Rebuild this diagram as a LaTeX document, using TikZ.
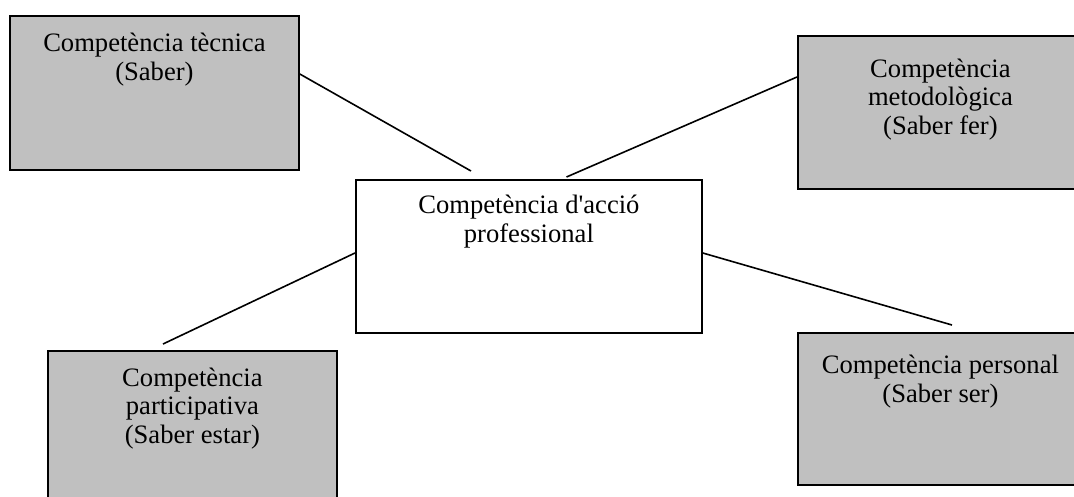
\documentclass[tikz,border=0pt]{standalone}
\usepackage{fontspec}
\setmainfont{Liberation Serif}
\usepackage{xcolor}
\usetikzlibrary{positioning}
\definecolor{gris}{HTML}{C0C0C0}

\begin{document}
\begin{tikzpicture}[x = 1pt, y = -1pt,
	caixa/.style = {draw = black, line width = 1.8pt, fill = gris, inner sep = 0pt, anchor = north west, minimum width = 289pt},
	etiqueta/.style = {font = \fontsize{26.6}{28.5}\selectfont, align = center, anchor = base, inner sep = 0pt},
	linia/.style = {line width = 1.6pt}]
	\useasboundingbox (0,0) rectangle (1074,496);
	\clip (0,0) rectangle (1074,496);
	\node[caixa, minimum height = 154pt] (tecnica) at (9,15) {};
	\node[caixa, minimum height = 153pt] (metode) at (797,35) {};
	\node[caixa, minimum height = 153pt, minimum width = 346pt, fill = white] (accio) at (355,179) {};
	\node[caixa, minimum height = 170pt] (participa) at (47,350) {};
	\node[caixa, minimum height = 152pt] (personal) at (797,332) {};
	\node[etiqueta] (tecnicaText) at ([yshift = -65pt]tecnica.north) {Competència tècnica\\(Saber)};
	\node[etiqueta] (metodeText) at ([xshift = -2pt, yshift = -99pt]metode.north) {Competència\\metodològica\\(Saber fer)};
	\node[etiqueta] (accioText) at ([yshift = -63pt]accio.north) {Competència d\textquotesingle acció\\professional};
	\node[etiqueta] (participaText) at ([yshift = -93pt]participa.north) {Competència\\participativa\\(Saber estar)};
	\node[etiqueta] (personalText) at ([xshift = -2pt, yshift = -70pt]personal.north) {Competència personal\\(Saber ser)};
	\coordinate (accioDalt) at (471,171);
	\coordinate (accioDalt2) at (566.5,177);
	\coordinate (participaDalt) at (163,344);
	\coordinate (personalDalt) at (952,325);
	\draw[linia] ([yshift = -59pt]tecnica.north east) -- (accioDalt);
	\draw[linia] (accioDalt2) -- ([yshift = -42pt]metode.north west);
	\draw[linia] ([yshift = -74pt]accio.north west) -- (participaDalt);
	\draw[linia] ([yshift = -74pt]accio.north east) -- (personalDalt);
\end{tikzpicture}
\end{document}
